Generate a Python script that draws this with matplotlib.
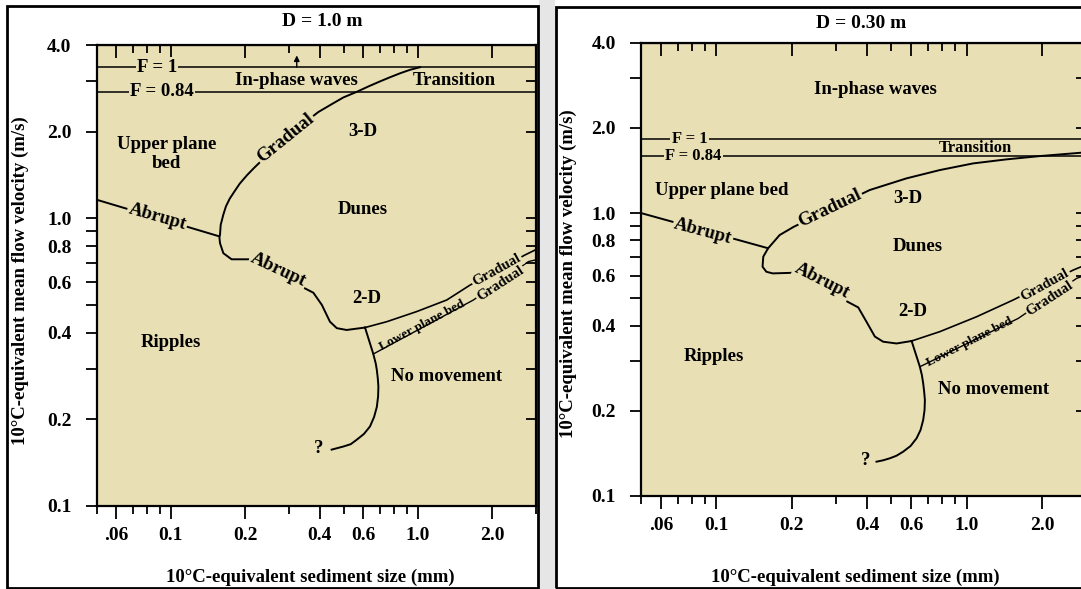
import matplotlib
matplotlib.use('Agg')
import matplotlib.pyplot as plt
from matplotlib.patches import Rectangle
from matplotlib.ticker import FixedLocator, FixedFormatter, NullFormatter

plt.rcParams['font.family'] = ['Liberation Serif', 'DejaVu Serif']
plt.rcParams['font.weight'] = 'bold'

# ---------------- data ----------------
x_major = [0.06, 0.1, 0.2, 0.4, 0.6, 1.0, 2.0]
x_major_labels = ['.06', '0.1', '0.2', '0.4', '0.6', '1.0', '2.0']
x_minor = [0.05, 0.07, 0.08, 0.09, 0.3, 0.5, 0.7, 0.8, 0.9, 3.0]
y_major = [0.1, 0.2, 0.4, 0.6, 0.8, 1.0, 2.0, 4.0]
y_major_labels = ['0.1', '0.2', '0.4', '0.6', '0.8', '1.0', '2.0', '4.0']
y_minor = [0.3, 0.5, 0.7, 0.9, 3.0]
x_range = (0.05, 3.0)
y_range = (0.1, 4.0)

# D = 1.0 m
L_froude_1 = 3.35
L_froude_084 = 2.75
L_abrupt_x = [0.05, 0.157]
L_abrupt_y = [1.16, 0.865]
L_dune_x = [1.02, 0.928, 0.846, 0.770, 0.702, 0.629, 0.565, 0.499, 0.454, 0.395,
            0.289, 0.216, 0.203, 0.190, 0.182, 0.173, 0.167, 0.163, 0.159, 0.158,
            0.157, 0.158, 0.163, 0.176, 0.206, 0.377, 0.408, 0.440, 0.469, 0.514,
            0.610]
L_dune_y = [3.35, 3.28, 3.19, 3.09, 2.99, 2.87, 2.75, 2.63, 2.51, 2.34,
            1.90, 1.49, 1.41, 1.32, 1.25, 1.17, 1.10, 1.03, 0.948, 0.875,
            0.865, 0.819, 0.756, 0.720, 0.720, 0.551, 0.500, 0.437, 0.415, 0.409,
            0.417]
L_lpb_top_x = [0.610, 0.747, 0.988, 1.307, 1.624, 2.712, 2.98]
L_lpb_top_y = [0.417, 0.437, 0.474, 0.520, 0.586, 0.746, 0.776]
L_lpb_bot_x = [0.659, 1.675, 2.797, 2.98]
L_lpb_bot_y = [0.3375, 0.520, 0.707, 0.716]
L_nomove_x = [0.610, 0.659, 0.674, 0.681, 0.687, 0.691, 0.689, 0.681, 0.664, 0.639,
              0.604, 0.565, 0.534, 0.499, 0.447]
L_nomove_y = [0.417, 0.3375, 0.313, 0.297, 0.278, 0.260, 0.240, 0.221, 0.204, 0.189,
              0.178, 0.170, 0.164, 0.161, 0.157]
L_arrow_x = 0.323
L_arrow_y = (3.35, 3.68)

# D = 0.30 m
R_froude_1 = 1.82
R_froude_084 = 1.59
R_abrupt_x = [0.05, 0.161]
R_abrupt_y = [1.0, 0.751]
R_dune_x = [2.87, 1.965, 1.445, 1.063, 0.782, 0.575, 0.410, 0.204, 0.179, 0.163,
            0.161, 0.154, 0.153, 0.1585, 0.168, 0.2025, 0.369, 0.398, 0.430, 0.464,
            0.525, 0.603]
R_dune_y = [1.634, 1.590, 1.548, 1.498, 1.419, 1.326, 1.206, 0.8945, 0.836, 0.760,
            0.751, 0.701, 0.646, 0.620, 0.612, 0.615, 0.464, 0.413, 0.366, 0.351,
            0.346, 0.353]
R_lpb_top_x = [0.603, 0.782, 1.096, 1.536, 2.669, 2.87]
R_lpb_top_y = [0.353, 0.381, 0.430, 0.493, 0.629, 0.646]
R_lpb_bot_x = [0.6505, 1.609, 2.754, 2.87]
R_lpb_bot_y = [0.2863, 0.4244, 0.588, 0.5955]
R_nomove_x = [0.603, 0.6505, 0.6626, 0.6707, 0.6768, 0.6813, 0.6792, 0.6707, 0.6546,
              0.631, 0.597, 0.5577, 0.5248, 0.4934, 0.4639, 0.4365]
R_nomove_y = [0.353, 0.2863, 0.2677, 0.2502, 0.2336, 0.2184, 0.2013, 0.1856, 0.1711,
              0.1599, 0.1502, 0.1434, 0.1388, 0.1359, 0.1337, 0.1322]

# labels: text, x, y, rotation, size, masks line
L_labels = [
    ('F = 1', 0.0878, 3.35, 0, 13.5, True),
    ('F = 0.84', 0.092, 2.75, 0, 13.5, True),
    ('In-phase waves', 0.322, 3.02, 0, 13.5, False),
    ('Transition', 1.40, 3.02, 0, 13.5, False),
    ('Upper plane\nbed', 0.096, 1.67, 0, 13.5, False),
    ('3-D', 0.60, 2.0, 0, 13.5, False),
    ('Dunes', 0.60, 1.07, 0, 13.5, False),
    ('Ripples', 0.10, 0.369, 0, 13.5, False),
    ('2-D', 0.62, 0.527, 0, 13.5, False),
    ('No movement', 1.307, 0.281, 0, 13.5, False),
    ('Lower plane bed', 1.035, 0.426, 28, 9.5, False),
    ('Abrupt', 0.0882, 1.013, -16, 13.5, True),
    ('Abrupt', 0.272, 0.661, -25, 13.5, True),
    ('Gradual', 0.291, 1.90, 39, 13.5, True),
    ('Gradual', 2.08, 0.661, 29, 10.5, True),
    ('Gradual', 2.15, 0.594, 33, 10.5, True),
    ('?', 0.395, 0.1587, 0, 13.5, False),
]
R_labels = [
    ('F = 1', 0.0782, 1.82, 0, 12, True),
    ('F = 0.84', 0.0811, 1.59, 0, 12, True),
    ('In-phase waves', 0.434, 2.74, 0, 13.5, False),
    ('Transition', 1.08, 1.693, 0, 12, False),
    ('Upper plane bed', 0.1047, 1.206, 0, 13.5, False),
    ('3-D', 0.584, 1.127, 0, 13.5, False),
    ('Dunes', 0.640, 0.760, 0, 13.5, False),
    ('Ripples', 0.0975, 0.311, 0, 13.5, False),
    ('2-D', 0.611, 0.448, 0, 13.5, False),
    ('No movement', 1.278, 0.237, 0, 13.5, False),
    ('Lower plane bed', 1.031, 0.351, 27, 9.5, False),
    ('Abrupt', 0.0884, 0.859, -15, 13.5, True),
    ('Abrupt', 0.2645, 0.577, -27, 13.5, True),
    ('Gradual', 0.284, 1.039, 25.5, 13.5, True),
    ('Gradual', 2.056, 0.557, 29, 10.5, True),
    ('Gradual', 2.154, 0.500, 33, 10.5, True),
    ('?', 0.3956, 0.134, 0, 13.5, False),
]

# ---------------- figure ----------------
W, H = 1081, 589
fig = plt.figure(figsize=(W / 100, H / 100), dpi=100)
fig.patch.set_facecolor('white')
BG = '#E8DFB4'
LW = 1.4


def rect(x0, y0, x1, y1):
    return [x0 / W, 1 - y1 / H, (x1 - x0) / W, (y1 - y0) / H]


def setup(ax):
    ax.set_facecolor(BG)
    ax.set_xscale('log')
    ax.set_yscale('log')
    ax.set_xlim(*x_range)
    ax.set_ylim(*y_range)
    ax.xaxis.set_major_locator(FixedLocator(x_major))
    ax.xaxis.set_major_formatter(FixedFormatter(x_major_labels))
    ax.xaxis.set_minor_locator(FixedLocator(x_minor))
    ax.xaxis.set_minor_formatter(NullFormatter())
    ax.yaxis.set_major_locator(FixedLocator(y_major))
    ax.yaxis.set_major_formatter(FixedFormatter(y_major_labels))
    ax.yaxis.set_minor_locator(FixedLocator(y_minor))
    ax.yaxis.set_minor_formatter(NullFormatter())
    ax.tick_params(axis='x', which='major', direction='out', length=9, width=1.3,
                   pad=6, labelsize=14)
    ax.tick_params(axis='x', which='minor', direction='out', length=6, width=1.3)
    ax.tick_params(axis='y', which='both', direction='out', length=8, width=1.3,
                   pad=10, labelsize=14)
    for s in ax.spines.values():
        s.set_linewidth(1.6)
    top = ax.secondary_xaxis('top')
    top.xaxis.set_major_locator(FixedLocator(x_major))
    top.xaxis.set_minor_locator(FixedLocator(x_minor))
    top.xaxis.set_major_formatter(NullFormatter())
    top.xaxis.set_minor_formatter(NullFormatter())
    top.tick_params(axis='x', which='major', direction='in', length=9, width=1.3)
    top.tick_params(axis='x', which='minor', direction='in', length=6, width=1.3)
    right = ax.secondary_yaxis('right')
    right.yaxis.set_major_locator(FixedLocator(y_major))
    right.yaxis.set_minor_locator(FixedLocator(y_minor))
    right.yaxis.set_major_formatter(NullFormatter())
    right.yaxis.set_minor_formatter(NullFormatter())
    right.tick_params(axis='y', which='both', direction='in', length=7, width=1.3)


def draw(ax, f1, f084, ab_x, ab_y, dn_x, dn_y, lt_x, lt_y, lb_x, lb_y, nm_x, nm_y, labels):
    ax.axhline(f1, color='black', lw=1.1, zorder=2)
    ax.axhline(f084, color='black', lw=1.1, zorder=2)
    ax.plot(ab_x, ab_y, color='black', lw=LW, zorder=2, solid_joinstyle='round')
    ax.plot(dn_x, dn_y, color='black', lw=LW, zorder=2, solid_joinstyle='round')
    ax.plot(lt_x, lt_y, color='black', lw=1.2, zorder=2, solid_joinstyle='round')
    ax.plot(lb_x, lb_y, color='black', lw=1.0, zorder=2, solid_joinstyle='round')
    ax.plot(nm_x, nm_y, color='black', lw=LW, zorder=2, solid_joinstyle='round')
    for text, x, y, rot, size, mask in labels:
        kw = {}
        if mask:
            kw['bbox'] = dict(facecolor=BG, edgecolor='none', pad=1.0)
        ax.text(x, y, text, rotation=rot, rotation_mode='anchor', ha='center',
                va='center', fontsize=size, fontweight='bold', zorder=4,
                linespacing=1.2, **kw)


ax1 = fig.add_axes(rect(96.5, 45, 536, 506))
setup(ax1)
draw(ax1, L_froude_1, L_froude_084, L_abrupt_x, L_abrupt_y, L_dune_x, L_dune_y,
     L_lpb_top_x, L_lpb_top_y, L_lpb_bot_x, L_lpb_bot_y, L_nomove_x, L_nomove_y, L_labels)
ax1.annotate('', xy=(L_arrow_x, L_arrow_y[1]), xytext=(L_arrow_x, L_arrow_y[0]),
             arrowprops=dict(arrowstyle='-|>', lw=1.0, color='black', mutation_scale=8,
                             shrinkA=0, shrinkB=0),
             zorder=3)

ax2 = fig.add_axes(rect(641, 42.7, 1086, 496))
setup(ax2)
draw(ax2, R_froude_1, R_froude_084, R_abrupt_x, R_abrupt_y, R_dune_x, R_dune_y,
     R_lpb_top_x, R_lpb_top_y, R_lpb_bot_x, R_lpb_bot_y, R_nomove_x, R_nomove_y, R_labels)


def ftext(x, y, s, **kw):
    fig.text(x / W, 1 - y / H, s, ha='center', va='center', fontweight='bold', **kw)


ftext(322, 22, 'D = 1.0 m', fontsize=14)
ftext(861, 23, 'D = 0.30 m', fontsize=14)
ftext(20.5, 281, '10°C-equivalent mean flow velocity (m/s)', fontsize=13.5, rotation=90)
ftext(568.5, 274, '10°C-equivalent mean flow velocity (m/s)', fontsize=13.5, rotation=90)
ftext(310, 577, '10°C-equivalent sediment size (mm)', fontsize=13.5)
ftext(855, 577, '10°C-equivalent sediment size (mm)', fontsize=13.5)

# panel frames
fig.add_artist(Rectangle((539 / W, 0), 16 / W, 1, transform=fig.transFigure,
                         facecolor='#E6E6E6', edgecolor='none', zorder=0.5))
fig.add_artist(Rectangle((7 / W, 1 - 588 / H), 531 / W, 582 / H, transform=fig.transFigure,
                         fill=False, edgecolor='black', lw=2, zorder=5))
fig.add_artist(Rectangle((556 / W, 1 - 588 / H), 540 / W, 581.5 / H, transform=fig.transFigure,
                         fill=False, edgecolor='black', lw=2, zorder=5))

fig.savefig('out.png', dpi=100, facecolor='white')
